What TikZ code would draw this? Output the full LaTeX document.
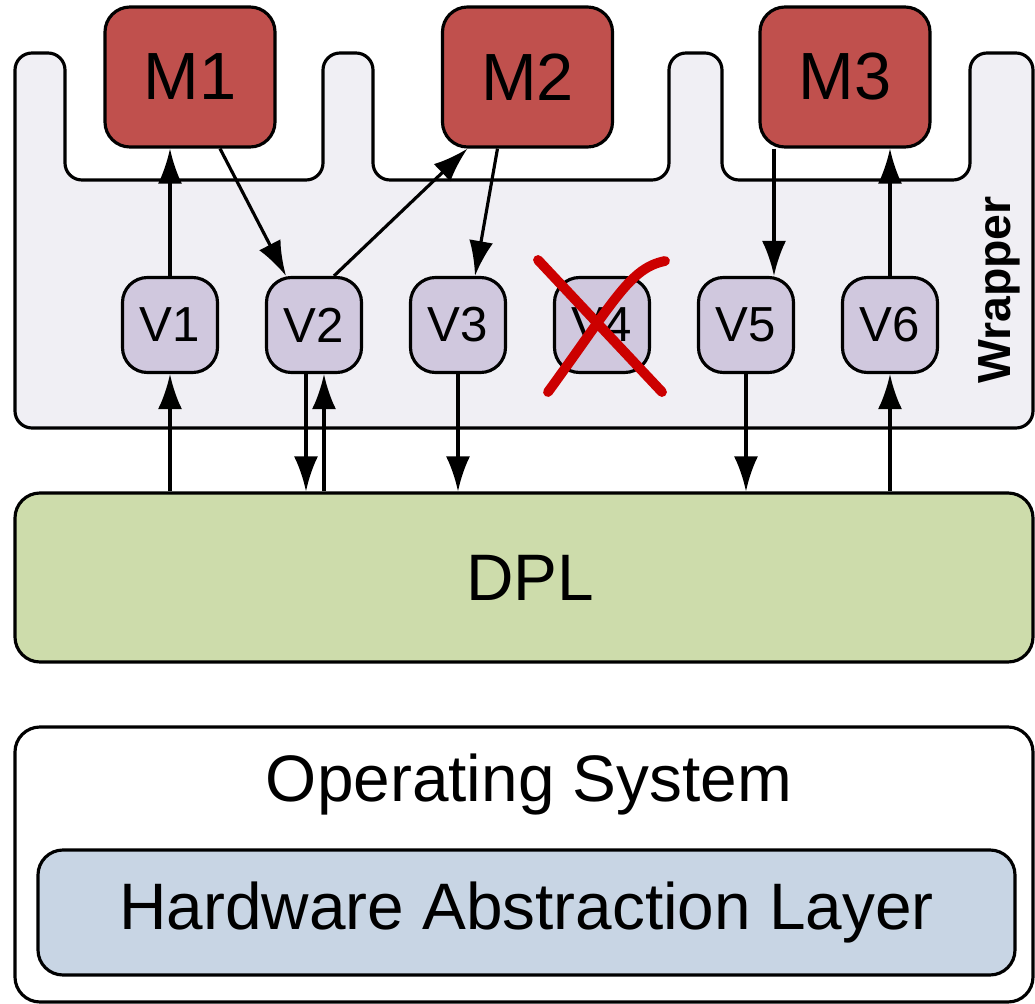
\documentclass[tikz,border=0pt]{standalone}
\usepackage{fontspec}
\setmainfont{Liberation Sans}
\usepackage{tikz}
\usetikzlibrary{positioning,arrows.meta}
\definecolor{modred}{HTML}{C0504D}
\definecolor{vlilac}{HTML}{D0C8DE}
\definecolor{wrapgray}{HTML}{F0EFF4}
\definecolor{dplgreen}{HTML}{CDDCAB}
\definecolor{halblue}{HTML}{C8D5E4}
\definecolor{crossred}{HTML}{CC0000}

\begin{document}
\begin{tikzpicture}[line width=0.9pt,node distance=1.44cm,on grid,
   module/.style={draw,fill=modred,rounded corners=0.25cm,minimum width=1.70cm,minimum height=1.40cm,font=\fontsize{19}{22}\selectfont},
   vbox/.style={draw,fill=vlilac,rounded corners=0.25cm,minimum size=0.95cm,inner sep=0pt,font=\fontsize{14}{16}\selectfont},
   layer/.style={draw,rounded corners=0.25cm,minimum width=10.18cm,font=\fontsize{18.7}{22}\selectfont},
   arr/.style={-{Latex[length=3.5mm,width=2.4mm]}},
   cross/.style={draw=crossred,line width=2.8pt,line cap=round}]
   \useasboundingbox (0,0) rectangle (10.35,-10.04);

   % wrapper with its notches
   \draw[fill=wrapgray,rounded corners=0.17cm]
      (0.15,-4.28) -- (0.15,-0.53) -- (0.65,-0.53) -- (0.65,-1.80) -- (3.23,-1.80)
      -- (3.23,-0.53) -- (3.73,-0.53) -- (3.73,-1.80) -- (6.69,-1.80) -- (6.69,-0.53)
      -- (7.22,-0.53) -- (7.22,-1.80) -- (9.70,-1.80) -- (9.70,-0.53) -- (10.33,-0.53)
      -- (10.33,-4.28) -- cycle;
   \node[rotate=90,font=\bfseries\fontsize{13.2}{15}\selectfont] (wraplabel) at (9.99,-2.90) {Wrapper};

   \node[module] (m1) at (1.90,-0.77) {M1};
   \node[module] (m2) at (5.275,-0.77) {M2};
   \node[module] (m3) at (8.45,-0.77) {M3};

   \node[vbox] (v1) at (1.70,-3.25) {V1};
   \node[vbox] (v2) [right=of v1] {V2};
   \node[vbox] (v3) [right=of v2] {V3};
   \node[vbox] (v4) [right=of v3] {V4};
   \node[vbox] (v5) [right=of v4] {V5};
   \node[vbox] (v6) [right=of v5] {V6};

   \node[layer,fill=dplgreen,minimum height=1.69cm] (dpl) at (5.24,-5.775) {\hspace{0.12cm}DPL};
   \node[layer,minimum height=2.75cm] (os) at (5.24,-8.645) {};
   \node[font=\fontsize{18.7}{22}\selectfont] (osname) at (5.29,-7.85) {Operating System};
   \node[layer,fill=halblue,minimum width=9.77cm,minimum height=1.25cm] (hal) at (5.265,-9.125) {Hardware Abstraction Layer};

   % wrapper <-> modules
   \draw[arr] (v1.north) -- (v1 |- m1.south);
   \draw[arr] ([xshift=0.30cm]m1.south) -- ([xshift=-0.28cm]v2.north);
   \draw[arr] ([xshift=0.20cm]v2.north) -- ([xshift=-0.60cm]m2.south);
   \draw[arr] ([xshift=-0.30cm]m2.south) -- ([xshift=0.17cm]v3.north);
   \draw[arr] ([xshift=0.28cm]v5.north |- m3.south) -- ([xshift=0.28cm]v5.north);
   \draw[arr] (v6.north) -- (v6 |- m3.south);

   % wrapper <-> DPL
   \draw[arr] (v1 |- dpl.north) -- (v1.south);
   \draw[arr] ([xshift=-0.08cm]v2.south) -- ([xshift=-0.08cm]v2.south |- dpl.north);
   \draw[arr] ([xshift=0.10cm]v2.south |- dpl.north) -- ([xshift=0.10cm]v2.south);
   \draw[arr] (v3.south) -- (v3 |- dpl.north);
   \draw[arr] (v5.south) -- (v5 |- dpl.north);
   \draw[arr] (v6 |- dpl.north) -- (v6.south);

   % V4 is crossed out
   \draw[cross] (5.38,-2.60) -- (6.62,-3.92);
   \draw[cross] (5.48,-3.92) .. controls (6.15,-3.00) and (6.30,-2.68) .. (6.65,-2.61);
\end{tikzpicture}
\end{document}
